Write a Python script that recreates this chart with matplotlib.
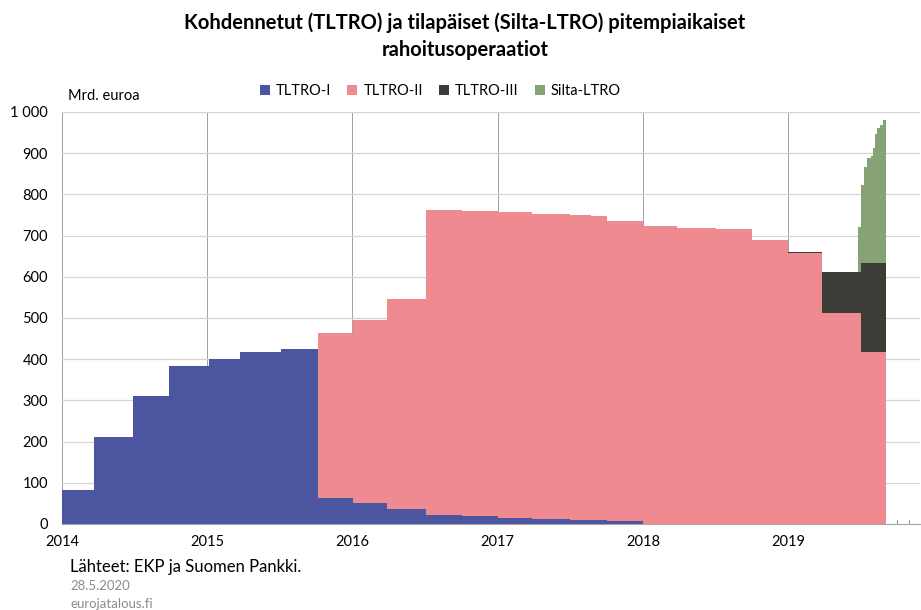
import numpy as np
import matplotlib.pyplot as plt
from matplotlib.patches import Patch
from matplotlib.ticker import MultipleLocator, FuncFormatter

plt.rcParams['font.family'] = ['Lato', 'DejaVu Sans']

# step edges in decimal years
edges = [2014.000, 2014.222, 2014.491, 2014.739, 2015.010, 2015.225, 2015.510,
         2015.760, 2016.006, 2016.240, 2016.509, 2016.752, 2017.000, 2017.236,
         2017.497, 2017.640, 2017.750, 2017.998, 2018.232, 2018.503, 2018.752,
         2019.000, 2019.230, 2019.480, 2019.503, 2019.524, 2019.542, 2019.568,
         2019.581, 2019.597, 2019.613, 2019.632, 2019.650, 2019.675]

# outstanding amounts, bn euro
tltro1 = [82, 212, 310, 384, 400, 418, 425, 62, 50, 36, 21, 19, 15, 12, 10.5,
          10.5, 7] + [0] * 16
tltro2 = [0] * 7 + [401, 445, 509, 740, 740, 741, 740, 740.5, 737.5, 728, 723,
                    719, 715, 690, 657, 513, 513] + [418] * 9
tltro3 = [0] * 21 + [3, 98, 98] + [216] * 9
silta = [0] * 23 + [110, 189, 233, 253, 260, 278, 313, 326, 334, 346]

series = [tltro1, tltro2, tltro3, silta]
names = ['TLTRO-I', 'TLTRO-II', 'TLTRO-III', 'Silta-LTRO']
colors = ['#4B55A0', '#EF8A91', '#3C3D37', '#87A277']

years = [2014, 2015, 2016, 2017, 2018, 2019]

fig = plt.figure(figsize=(9.21, 6.10), dpi=100)
ax = fig.add_axes([0.0673, 0.141, 0.932, 0.6755])

bottom = np.zeros(len(edges) - 1)
for vals, c in zip(series, colors):
    top = bottom + np.array(vals, dtype=float)
    ax.stairs(top, edges, baseline=bottom, fill=True, color=c, lw=0, zorder=2)
    bottom = top

ax.set_xlim(2014, 2019.91)
ax.set_ylim(0, 1000)

ax.set_xticks(years)
ax.set_xticklabels([str(y) for y in years])
ax.xaxis.set_minor_locator(MultipleLocator(1 / 12))
ax.yaxis.set_major_locator(MultipleLocator(100))
ax.yaxis.set_major_formatter(FuncFormatter(lambda v, p: f'{int(v):,}'.replace(',', ' ')))

ax.tick_params(axis='x', which='major', direction='in', length=4, color='#707070',
               labelsize=10.5, pad=8)
ax.tick_params(axis='x', which='minor', direction='in', length=3, color='#707070')
ax.tick_params(axis='y', length=0, labelsize=10.5, pad=10)

ax.grid(axis='y', color='#D4D4D4', lw=0.9, zorder=0)
ax.grid(axis='x', which='major', color='#A0A0A0', lw=0.7, zorder=0)
for s in ['top', 'right', 'left']:
    ax.spines[s].set_visible(False)
ax.spines['bottom'].set_color('#A6A6A6')
ax.spines['bottom'].set_zorder(3)
ax.set_axisbelow(True)

fig.text(0.505, 0.963, 'Kohdennetut (TLTRO) ja tilapäiset (Silta-LTRO) pitempiaikaiset',
         ha='center', va='center', fontsize=14.5, fontweight='bold')
fig.text(0.505, 0.918, 'rahoitusoperaatiot', ha='center', va='center',
         fontsize=14.5, fontweight='bold')
fig.text(68 / 921, 1 - 96 / 610, 'Mrd. euroa', ha='left', va='center', fontsize=10.5)

handles = [Patch(facecolor=c, edgecolor='none') for c in colors]
fig.legend(handles, names, loc='center', bbox_to_anchor=(0.478, 1 - 91 / 610),
           ncol=4, frameon=False, fontsize=10.5, handlelength=0.7, handleheight=0.7,
           handletextpad=0.4, columnspacing=1.1)

fig.text(70 / 921, 1 - 567 / 610, 'Lähteet: EKP ja Suomen Pankki.', ha='left',
         va='center', fontsize=12)
fig.text(70 / 921, 1 - 586 / 610, '28.5.2020', ha='left', va='center',
         fontsize=9.5, color='#8C8C8C')
fig.text(70 / 921, 1 - 604 / 610, 'eurojatalous.fi', ha='left', va='center',
         fontsize=9.5, color='#8C8C8C')

fig.savefig('out.png', dpi=100)
